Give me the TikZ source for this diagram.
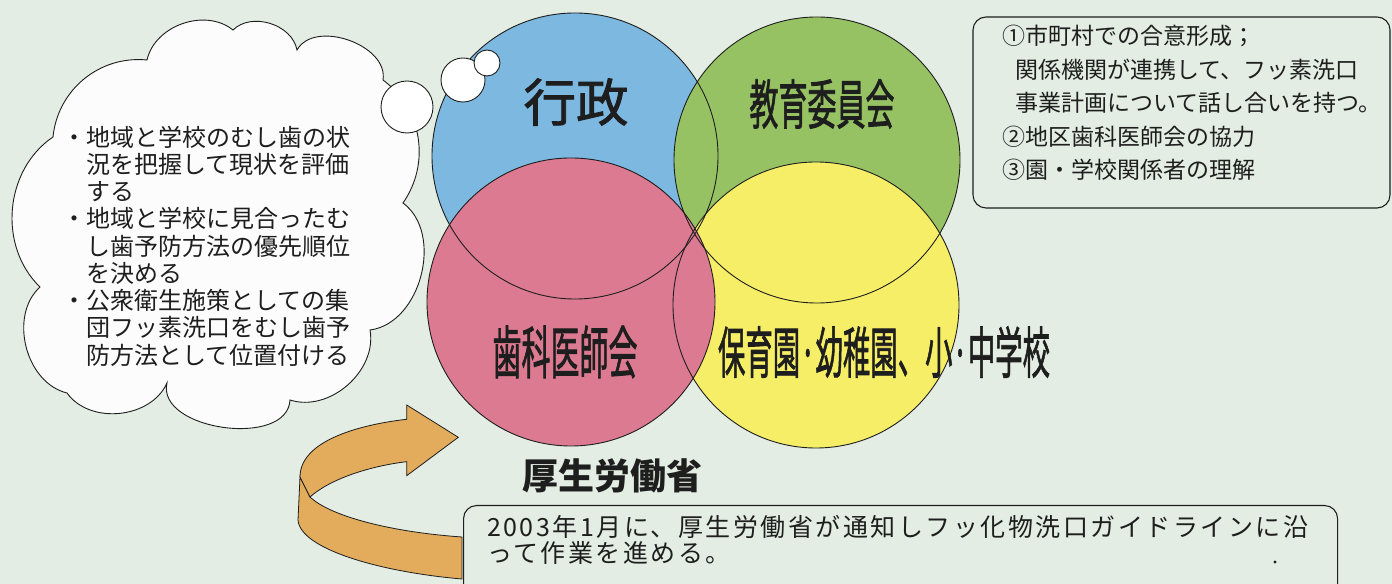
\documentclass[tikz,border=0pt]{standalone}
\usepackage{fontspec}
\usepackage{graphicx}
\newfontfamily\jp{Noto Sans CJK JP}
\newfontfamily\jpm[FakeBold=1.6]{Noto Sans CJK JP}
\newfontfamily\jpls[LetterSpace=10]{Noto Sans CJK JP}
\definecolor{bg}{RGB}{227,237,227}
\definecolor{cblue}{RGB}{124,184,224}
\definecolor{cgreen}{RGB}{150,194,100}
\definecolor{cpink}{RGB}{220,122,145}
\definecolor{cyellow}{RGB}{245,238,102}
\definecolor{corange}{RGB}{226,172,92}
\definecolor{ink}{RGB}{30,30,30}
\begin{document}
\begin{tikzpicture}[x=1bp,y=1bp,
  outline/.style={draw=ink, line width=0.9bp},
  bubble/.style={outline, fill=white},
  biglabel/.style={inner sep=0, text=ink, font=\jpm},
  cloudtxt/.style={anchor=base west, inner sep=0, text=ink, font=\jp\fontsize{24bp}{24bp}\selectfont},
  boxtxt/.style={anchor=base west, inner sep=0, text=ink, font=\jp\fontsize{23bp}{23bp}\selectfont},
  bottxt/.style={anchor=base west, inner sep=0, text=ink, font=\jpls\fontsize{25bp}{25bp}\selectfont},
  textbox/.style={draw=ink, line width=1.1bp, rounded corners=13bp, fill=bg, inner sep=0}
]
\useasboundingbox (0,0) rectangle (1392,584);
\fill[bg] (0,0) rectangle (1392,584);

% ---- thought cloud ----
\filldraw[outline, fill=white!98!gray]
  (53,447) to[bend left=45] (147,524) to[bend left=58] (233,554)
  to[bend left=62] (297,534) to[bend left=80] (383,504)
  to[bend left=44] (403,381) to[bend left=68] (370,254)
  to[bend left=59] (290,184) to[bend left=95] (167,201)
  to[bend left=60] (67,191) to[bend left=62] (40,297)
  to[bend left=51] cycle;

\node[cloudtxt] (c1) at (62,437.9) {・地域と学校のむし歯の状};
\node[cloudtxt] (c2) at (86,410.7) {況を把握して現状を評価};
\node[cloudtxt] (c3) at (86,383.4) {する};
\node[cloudtxt] (c4) at (62,356.2) {・地域と学校に見合ったむ};
\node[cloudtxt] (c5) at (86,328.9) {し歯予防方法の優先順位};
\node[cloudtxt] (c6) at (86,301.7) {を決める};
\node[cloudtxt] (c7) at (62,274.4) {・公衆衛生施策としての集};
\node[cloudtxt] (c8) at (86,247.2) {団フッ素洗口をむし歯予};
\node[cloudtxt] (c9) at (86,219.9) {防方法として位置付ける};

% ---- Venn circles ----
\coordinate (blue) at (575,428);
\coordinate (green) at (817,424);
\coordinate (pink) at (571,282);
\coordinate (yellow) at (816,279);
\fill[cblue] (blue) circle[radius=143bp];
\fill[cgreen] (green) circle[radius=143bp];
\fill[cyellow] (yellow) circle[radius=143bp];
\fill[cpink] (pink) circle[radius=144bp];
\draw[outline] (blue) circle[radius=143bp];
\draw[outline] (green) circle[radius=143bp];
\draw[outline] (yellow) circle[radius=143bp];
\draw[outline] (pink) circle[radius=144bp];

% thought bubbles
\draw[bubble] (407,477) circle[radius=26bp];
\draw[bubble] (463,504) circle[radius=22bp];
\draw[bubble] (487,521) circle[radius=13bp];

\node[biglabel] (gyosei) at (576,482) {\resizebox{105bp}{43bp}{行政}};
\node[biglabel] (kyoiku) at (822,480) {\resizebox{145bp}{45bp}{教育委員会}};
\node[biglabel] (shika) at (565,232) {\resizebox{145bp}{48bp}{歯科医師会}};
\node[biglabel] (hoiku) at (884,232) {\resizebox{332bp}{47bp}{保育園·幼稚園、小·中学校}};

% ---- orange twisted arrow ----
\filldraw[outline, line width=0.8bp, fill=corange]
  (300,107) -- (298,64) .. controls (300,35) and (380,12) .. (462,5)
  -- (462,47) .. controls (390,52) and (330,68) .. (310,87) -- cycle;
\filldraw[outline, line width=0.8bp, fill=corange]
  (406.7,164.7) -- (406.7,179) -- (458.3,146.7) -- (406.7,108.3) -- (406.7,122.3)
  .. controls (370,118) and (330,105) .. (310,87) -- (300,107)
  .. controls (300,145) and (365,160) .. cycle;

% ---- right text box ----
\node[textbox, minimum width=417bp, minimum height=191bp] (rbox) at (1181.5,471.5) {};
\node[boxtxt] (r1) at (1002,539.3) {①市町村での合意形成；};
\node[boxtxt] (r2) at (1015,505.8) {関係機関が連携して、フッ素洗口};
\node[boxtxt] (r3) at (1015,472.3) {事業計画について話し合いを持つ。};
\node[boxtxt] (r4) at (1002,438.8) {②地区歯科医師会の協力};
\node[boxtxt] (r5) at (1002,405.3) {③園・学校関係者の理解};

% ---- ministry ----
\node[inner sep=0, text=ink, font=\jp\bfseries\fontsize{36bp}{36bp}\selectfont] (mhlw) at (612,108) {厚生労働省};

% ---- bottom text box ----
\node[textbox, minimum width=874bp, minimum height=110bp, anchor=north west] (bbox) at (463,79) {};
\node[bottxt] (b1) at (487,47.5) {2003年1月に、厚生労働省が通知しフッ化物洗口ガイドラインに沿};
\node[bottxt] (b2) at (487,21.5) {って作業を進める。};
\node[circle, fill=ink, inner sep=1.2bp] (dot) at (1275,22) {};
\end{tikzpicture}
\end{document}
